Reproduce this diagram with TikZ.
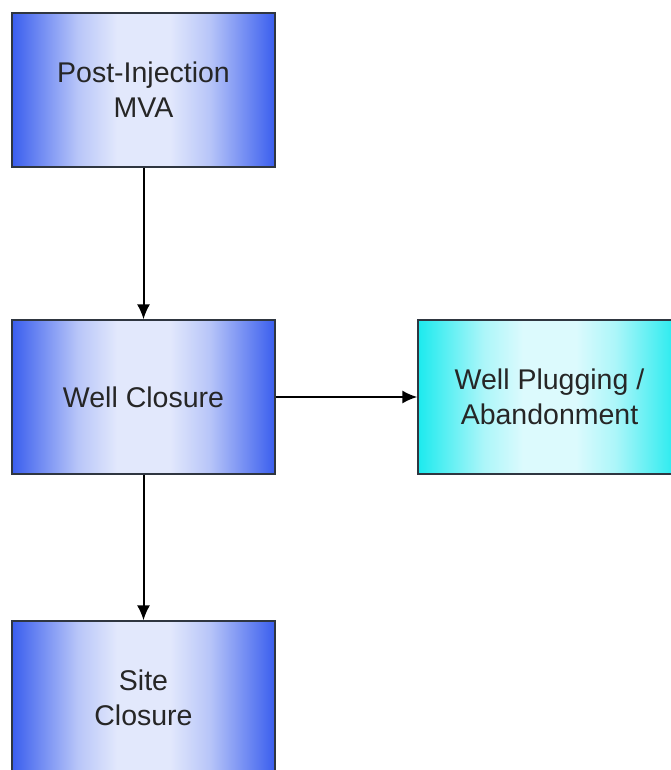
\documentclass[tikz,border=0pt]{standalone}
\usepackage{fontspec}
\setmainfont{Liberation Sans}
\usetikzlibrary{arrows.meta}

\definecolor{boxblue}{HTML}{3A5EEE}
\definecolor{boxpale}{HTML}{E2E8FC}
\definecolor{boxcyan}{HTML}{1CEAEE}
\definecolor{cyanpale}{HTML}{DCFAFD}
\definecolor{boxline}{HTML}{2F3640}

% the box fills the middle 50bp of the shading
\pgfdeclarehorizontalshading{blueband}{100bp}{color(0bp)=(boxblue); color(25bp)=(boxblue); color(30bp)=(boxblue!70!boxpale);
	color(37.5bp)=(boxblue!25!boxpale); color(45bp)=(boxpale); color(55bp)=(boxpale); color(62.5bp)=(boxblue!25!boxpale);
	color(70bp)=(boxblue!70!boxpale); color(75bp)=(boxblue); color(100bp)=(boxblue)}
\pgfdeclarehorizontalshading{cyanband}{100bp}{color(0bp)=(boxcyan); color(25bp)=(boxcyan); color(30bp)=(boxcyan!70!cyanpale);
	color(37.5bp)=(boxcyan!25!cyanpale); color(45bp)=(cyanpale); color(55bp)=(cyanpale); color(62.5bp)=(boxcyan!25!cyanpale);
	color(70bp)=(boxcyan!70!cyanpale); color(75bp)=(boxcyan); color(100bp)=(boxcyan)}

\tikzset{
	stage/.style={draw=boxline, line width=1.2, minimum width=263, minimum height=154,
		align=center, text=black!85, font=\fontsize{28.5}{35}\selectfont,
		shading=blueband},
	branch/.style={stage, shading=cyanband},
	flow/.style={line width=2, -{Latex[length=15,width=13]}}
}

\begin{document}
\begin{tikzpicture}[x=1pt, y=-1pt]
		\useasboundingbox (0, 0) rectangle (671, 770);
		\clip (0, 0) rectangle (671, 770);

		\node[stage] (mva) at (143.5, 90) {Post-Injection\\MVA};
		\node[stage] (well) at (143.5, 397) {Well Closure};
		\node[stage] (site) at (143.5, 698) {Site\\Closure};
		\node[branch] (plug) at (549.5, 397) {Well Plugging /\\Abandonment};

		\draw [flow] (mva) -- (well);
		\draw [flow] (well) -- (site);
		\draw [flow] (well) -- (plug);
	\end{tikzpicture}
\end{document}
